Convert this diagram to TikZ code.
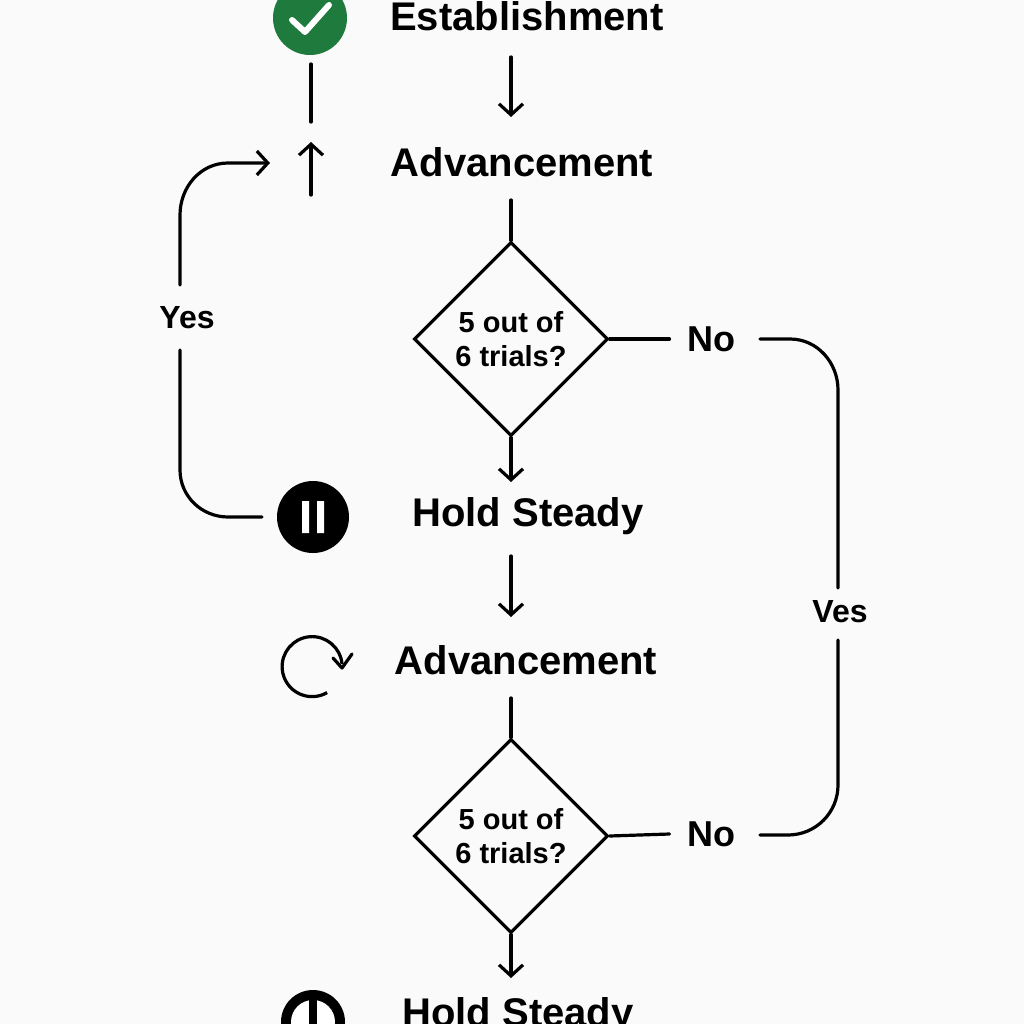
\documentclass[tikz,border=0pt]{standalone}
\usepackage{fontspec}
\setmainfont{Liberation Sans}
\usetikzlibrary{arrows.meta,shapes.geometric}
\definecolor{gr}{HTML}{1F7A3E}
\begin{document}
\begin{tikzpicture}[x=1pt,y=-1pt,
  lbl/.style={font=\fontsize{40}{44}\selectfont\bfseries},
  ln/.style={line width=3.2pt,line cap=round},
  ar/.style={ln,-{Straight Barb[length=11pt,width=24pt,line width=3.2pt]}},
  dia/.style={draw,line width=3.2pt,diamond,minimum width=194pt,minimum height=194pt,inner sep=0pt,align=center,font=\fontsize{29}{34}\selectfont\bfseries}]
\fill[white!98!black] (0,0) rectangle (1024,1024);
\useasboundingbox (0,0) rectangle (1024,1024);
% top
\fill[gr] (310,18) circle (37);
\draw[white,line width=6pt,line cap=round,line join=round] (292,20) -- (305,32) -- (329,5);
\node[lbl] (e) at (527,16) {Establishment};
\coordinate (a1) at (511,57); \coordinate (a2) at (511,117);
\draw[ar] (a1) -- (a2);
\coordinate (l1) at (311,64); \coordinate (l2) at (311,122);
\draw[ln] (l1) -- (l2);
\coordinate (u1) at (311,195); \coordinate (u2) at (311,142);
\draw[ar] (u1) -- (u2);
\node[lbl] (adv1) at (522,162) {Advancement};
% left loop
\coordinate (c1) at (180,285); \coordinate (c2) at (270,163);
\draw[ar] (c1) -- (180,215) to[out=90,in=180] (228,163) -- (c2);
\node[lbl,font=\fontsize{32}{34}\selectfont\bfseries] (yes1) at (187,318) {Yes};
\coordinate (c3) at (180,350); \coordinate (c4) at (262,517);
\draw[ln] (c3) -- (180,470) to[out=-90,in=180] (228,517) -- (c4);
\fill (313,517) circle (36);
\fill[white] (302,501) rectangle (309,533) (317,501) rectangle (324,533);
% diamond 1
\coordinate (t1) at (511,200);
\node[dia] (d1) at (511,339) {5 out of\\6 trials?};
\draw[ln] (t1) -- (d1.north);
\coordinate (b1) at (511,482);
\draw[ar] (d1.south) -- (b1);
\node[lbl] (hs1) at (528,516) {Hold Steady};
\node[lbl,font=\fontsize{36}{38}\selectfont\bfseries] (no1) at (711,339) {No};
\draw[ln] (d1.east) -- ([xshift=-14pt]no1.west);
\coordinate (r1) at (760,339); \coordinate (r2) at (838,588);
\draw[ln] (r1) -- (790,339) to[out=0,in=90] (838,390) -- (r2);
\node[lbl,font=\fontsize{32}{34}\selectfont\bfseries] (ves) at (840,612) {Ves};
\coordinate (r3) at (838,640); \coordinate (r4) at (760,835);
\draw[ln] (r3) -- (838,785) to[out=-90,in=0] (788,835) -- (r4);
% middle
\coordinate (m1) at (511,556); \coordinate (m2) at (511,617);
\draw[ar] (m1) -- (m2);
\draw[line width=3.2pt] (342,664) arc (-5:-300:30);
\draw[line width=3.2pt,line cap=round,line join=round] (333,658) -- (342,668) -- (352,654);
\node[lbl] (adv2) at (526,660) {Advancement};
% diamond 2
\coordinate (t2) at (511,698);
\node[dia] (d2) at (511,836) {5 out of\\6 trials?};
\draw[ln] (t2) -- (d2.north);
\node[lbl,font=\fontsize{36}{38}\selectfont\bfseries] (no2) at (711,834) {No};
\draw[ln] (d2.east) -- ([xshift=-14pt]no2.west);
\coordinate (b2) at (511,978);
\draw[ar] (d2.south) -- (b2);
% bottom
\fill (313,1022) circle (32);
\fill[white] (313,1022) circle (22);
\fill (309,996) rectangle (317,1024);
\node[lbl] (hs2) at (518,1016) {Hold Steady};
\end{tikzpicture}
\end{document}
